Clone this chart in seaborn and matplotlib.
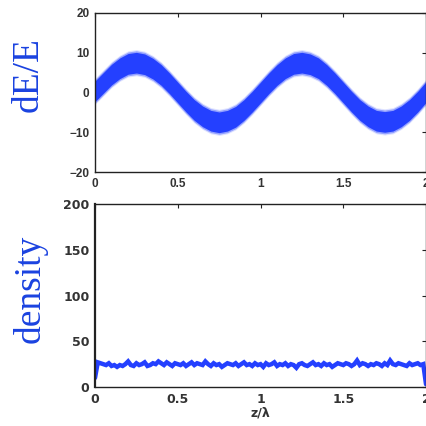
import numpy as np
import pandas as pd
import matplotlib
matplotlib.use("Agg")
import matplotlib.pyplot as plt
import seaborn as sns

# Energy deviation band: centre of the particle cloud (dE/E) along z/lambda
z_energy = [0.00, 0.05, 0.10, 0.15, 0.20, 0.25, 0.30, 0.35, 0.40, 0.45,
            0.50, 0.55, 0.60, 0.65, 0.70, 0.75, 0.80, 0.85, 0.90, 0.95,
            1.00, 1.05, 1.10, 1.15, 1.20, 1.25, 1.30, 1.35, 1.40, 1.45,
            1.50, 1.55, 1.60, 1.65, 1.70, 1.75, 1.80, 1.85, 1.90, 1.95, 2.00]
dE_centre = [0.3, 2.4, 4.5, 6.1, 7.2, 7.5, 7.1, 6.0, 4.4, 2.3,
             0.0, -2.3, -4.4, -6.0, -7.1, -7.5, -7.1, -6.1, -4.4, -2.3,
             0.0, 2.3, 4.4, 6.1, 7.2, 7.5, 7.1, 6.1, 4.4, 2.3,
             0.0, -2.3, -4.4, -6.0, -7.1, -7.4, -7.1, -6.0, -4.4, -2.3, 0.1]
# energy spread of the cloud (core / fringe half-widths)
dE_core = 2.6
dE_fringe = [3.0, 3.3]

# Line density along z/lambda
density = [10, 27, 26, 25, 24, 26, 23, 24, 22, 24,
           23, 25, 28, 24, 23, 26, 24, 25, 27, 23,
           24, 26, 25, 28, 26, 24, 27, 25, 23, 26,
           25, 24, 26, 23, 25, 27, 24, 26, 25, 24,
           28, 25, 23, 26, 24, 25, 22, 24, 26, 25,
           24, 26, 23, 25, 27, 24, 25, 23, 26, 24,
           25, 22, 26, 24, 25, 27, 23, 25, 24, 26,
           23, 25, 24, 21, 25, 26, 24, 23, 25, 27,
           24, 25, 23, 26, 24, 25, 22, 24, 26, 25,
           24, 26, 25, 23, 25, 29, 24, 26, 25, 23,
           25, 24, 26, 25, 23, 26, 24, 29, 25, 24,
           26, 25, 24, 23, 26, 24, 25, 26, 24, 25, 3]
z_density = np.linspace(0, 2, len(density))

x_ticks = [0, 0.5, 1, 1.5, 2]
x_ticklabels = ["0", "0.5", "1", "1.5", "2"]
e_ticks = [-20, -10, 0, 10, 20]
e_ticklabels = ["\u221220", "\u221210", "0", "10", "20"]
d_ticks = [0, 50, 100, 150, 200]
d_ticklabels = ["0", "50", "100", "150", "200"]

sns.set_theme(style="white")
plt.rcParams["font.family"] = ["Liberation Sans", "DejaVu Sans"]

mark_blue = "#2440ff"
label_blue = "#1a42e0"
tick_grey = "#333333"

fig = plt.figure(figsize=(4.27, 4.26), dpi=100)
ax_e = fig.add_axes([0.2225, 0.5962, 0.7752, 0.3733])
ax_d = fig.add_axes([0.2225, 0.0915, 0.7752, 0.4296])

# --- dE/E band ---
energy = pd.DataFrame({"z": z_energy, "dE": dE_centre})
zc = energy["z"].to_numpy()
cc = energy["dE"].to_numpy()
for hw, a in zip(dE_fringe[::-1], [0.15, 0.4]):
    ax_e.fill_between(zc, cc - hw, cc + hw, color=mark_blue, alpha=a, lw=0)
ax_e.fill_between(zc, cc - dE_core, cc + dE_core, color=mark_blue, lw=0)
sns.lineplot(data=energy, x="z", y="dE", ax=ax_e, color=mark_blue, lw=1)
ax_e.set_ylim(-20, 20)

# --- density line ---
dens = pd.DataFrame({"z": z_density, "density": density})
sns.lineplot(data=dens, x="z", y="density", ax=ax_d, color=mark_blue,
             lw=3.2, solid_joinstyle="miter")
ax_d.set_ylim(0, 200)

panels = [(ax_e, e_ticks, e_ticklabels, ["Liberation Sans", "DejaVu Sans"], 8.5),
          (ax_d, d_ticks, d_ticklabels, ["DejaVu Sans"], 9)]
for ax, ticks, labels, fam, fs in panels:
    ax.set_xlim(0, 2)
    ax.set_xticks(x_ticks)
    ax.set_xticklabels(x_ticklabels)
    ax.set_yticks(ticks)
    ax.set_yticklabels(labels)
    ax.set_xlabel("")
    ax.set_ylabel("")
    ax.tick_params(direction="in", length=3, width=0.8, colors="#222222",
                   labelcolor=tick_grey, pad=4, top=True, right=True)
    for t in ax.get_xticklabels() + ax.get_yticklabels():
        t.set_fontweight("bold")
        t.set_family(fam)
        t.set_fontsize(fs)
    for s in ax.spines.values():
        s.set_color("#222222")
        s.set_linewidth(1.0)
ax_d.spines["left"].set_linewidth(1.6)

ax_d.set_xlabel("z/\u03bb", fontsize=9, fontweight="bold", color=tick_grey,
                labelpad=1, family=["DejaVu Sans"])

fig.text(0.066, 1 - 74.5 / 426, "dE/E", rotation=90, ha="center",
         va="center", fontsize=27, color=label_blue,
         family=["Liberation Serif", "DejaVu Serif"])
fig.text(0.071, 1 - 289 / 426, "density", rotation=90, ha="center",
         va="center", fontsize=27, color=label_blue,
         family=["Liberation Serif", "DejaVu Serif"])

fig.savefig("out.png", dpi=100)
